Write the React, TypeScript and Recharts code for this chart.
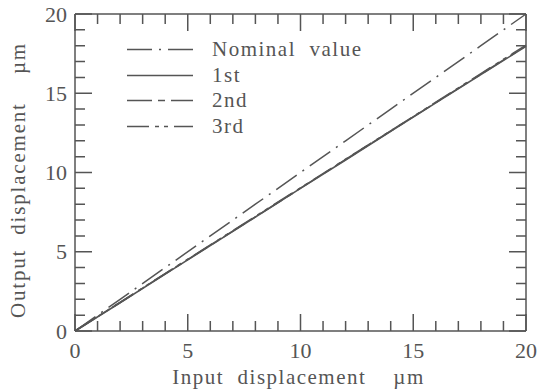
import { Legend, Line, LineChart, XAxis, YAxis } from 'recharts';

// input displacement (µm) and read-off output displacement (µm)
const inputs = [0, 2, 4, 6, 8, 10, 12, 14, 16, 18, 20];
const nominal = [0, 2, 4, 6, 8, 10, 12, 14, 16, 18, 20];
const first = [0, 1.78, 3.59, 5.39, 7.19, 9.0, 10.79, 12.6, 14.39, 16.18, 17.96];
const second = [0, 1.8, 3.61, 5.41, 7.2, 9.01, 10.82, 12.62, 14.41, 16.2, 17.99];
const third = [0, 1.81, 3.62, 5.43, 7.23, 9.03, 10.84, 12.63, 14.43, 16.24, 18.04];

const ticks = [0, 1, 2, 3, 4, 5, 6, 7, 8, 9, 10, 11, 12, 13, 14, 15, 16, 17, 18, 19, 20];

const seriesNames = ['Nominal\u00a0\u00a0value', '1st', '2nd', '3rd'];
const seriesDash = ['25 7 2 7', '', '25 6 7 6', '22 6 4 5 4 6'];

const data = inputs.map((x, i) => ({
  x,
  nominal: nominal[i],
  first: first[i],
  second: second[i],
  third: third[i],
}));

const ink = '#555';
const font = "'Liberation Serif', 'Times New Roman', Times, serif";

// plot box size (frame)
const PLOT_W = 451;
const PLOT_H = 317;

const tickLen = (v: number) => (v % 5 === 0 ? 17 : 10);

// inward ticks on both opposite edges of the frame, labels only every 5
const EdgeTick = (props: any) => {
  const { x, y, payload, side } = props;
  const v = payload.value;
  const len = tickLen(v);
  const showLabel = v % 5 === 0;
  if (side === 'bottom') {
    return (
      <g>
        <path d={`M${x},${y}V${y - len}M${x},${y - PLOT_H}V${y - PLOT_H + len}`} stroke={ink} strokeWidth={1.5} fill="none" />
        {showLabel && (
          <text x={x} y={y + 19} textAnchor="middle" dominantBaseline="central" fill={ink} fontSize={22} style={{ fontFamily: font }}>
            {v}
          </text>
        )}
      </g>
    );
  }
  return (
    <g>
      <path d={`M${x},${y}H${x + len}M${x + PLOT_W},${y}H${x + PLOT_W - len}`} stroke={ink} strokeWidth={1.5} fill="none" />
      {showLabel && (
        <text x={x - 8} y={y} textAnchor="end" dominantBaseline="central" fill={ink} fontSize={22} style={{ fontFamily: font }}>
          {v}
        </text>
      )}
    </g>
  );
};

const XTitle = (props: any) => {
  const { viewBox } = props;
  return (
    <text
      x={viewBox.x + viewBox.width / 2 - 2}
      y={384}
      textAnchor="middle"
      fill={ink}
      fontSize={21}
      style={{ fontFamily: font, letterSpacing: '1.5px' }}
    >
      {'Input\u00a0\u00a0displacement\u00a0\u00a0\u00a0\u00a0µm'}
    </text>
  );
};

const YTitle = () => (
  <text
    x={18}
    y={180}
    transform="rotate(-90 18 180)"
    textAnchor="middle"
    dominantBaseline="central"
    fill={ink}
    fontSize={21}
    style={{ fontFamily: font, letterSpacing: '1.8px' }}
  >
    {'Output\u00a0\u00a0displacement\u00a0\u00a0\u00a0\u00a0µm'}
  </text>
);

const LegendBox = () => (
  <div style={{ fontFamily: font, fontSize: 21, color: ink, letterSpacing: '1.5px' }}>
    {seriesNames.map((name, i) => (
      <div key={name} style={{ display: 'flex', alignItems: 'center', height: 25.5 }}>
        <svg width={66} height={25}>
          <line x1={0} y1={12.5} x2={66} y2={12.5} stroke={ink} strokeWidth={1.5} strokeDasharray={seriesDash[i]} />
        </svg>
        <span style={{ marginLeft: 19, lineHeight: '25px' }}>{name}</span>
      </div>
    ))}
  </div>
);

const App = () => {
  return (
    <div style={{ position: 'absolute', left: 0, top: 0, background: '#fff' }}>
      <LineChart width={538} height={392} data={data} margin={{ top: 13, right: 11, bottom: 0, left: 0 }}>
        <XAxis
          xAxisId="bottom"
          dataKey="x"
          type="number"
          domain={[0, 20]}
          ticks={ticks}
          interval={0}
          height={61}
          tickSize={0}
          tickMargin={0}
          tickLine={false}
          axisLine={{ stroke: ink, strokeWidth: 1.5 }}
          tick={(p: any) => <EdgeTick {...p} side="bottom" />}
          label={<XTitle />}
        />
        <XAxis
          xAxisId="top"
          orientation="top"
          dataKey="x"
          type="number"
          domain={[0, 20]}
          allowDataOverflow
          height={1}
          tick={false}
          tickLine={false}
          axisLine={{ stroke: ink, strokeWidth: 1.5 }}
        />
        <YAxis
          yAxisId="left"
          type="number"
          domain={[0, 20]}
          ticks={ticks}
          interval={0}
          width={75}
          tickSize={0}
          tickMargin={0}
          tickLine={false}
          axisLine={{ stroke: ink, strokeWidth: 1.5 }}
          tick={(p: any) => <EdgeTick {...p} side="left" />}
          label={<YTitle />}
        />
        <YAxis
          yAxisId="right"
          orientation="right"
          type="number"
          domain={[0, 20]}
          allowDataOverflow
          width={1}
          tick={false}
          tickLine={false}
          axisLine={{ stroke: ink, strokeWidth: 1.5 }}
        />
        <Legend
          layout="vertical"
          align="center"
          verticalAlign="middle"
          content={<LegendBox />}
          wrapperStyle={{ top: 37, left: 127, width: 280, height: 104 }}
        />
        {/* invisible series so the top/right frame axes get their scale */}
        <Line xAxisId="top" yAxisId="right" dataKey="nominal" stroke="none" dot={false} activeDot={false} legendType="none" isAnimationActive={false} />
        <Line xAxisId="bottom" yAxisId="left" dataKey="nominal" name={seriesNames[0]} stroke={ink} strokeWidth={1.5} strokeDasharray={seriesDash[0]} dot={false} isAnimationActive={false} />
        <Line xAxisId="bottom" yAxisId="left" dataKey="first" name={seriesNames[1]} stroke={ink} strokeWidth={1.6} dot={false} isAnimationActive={false} />
        <Line xAxisId="bottom" yAxisId="left" dataKey="second" name={seriesNames[2]} stroke={ink} strokeWidth={1.6} strokeDasharray={seriesDash[2]} dot={false} isAnimationActive={false} />
        <Line xAxisId="bottom" yAxisId="left" dataKey="third" name={seriesNames[3]} stroke={ink} strokeWidth={1.6} strokeDasharray={seriesDash[3]} dot={false} isAnimationActive={false} />
      </LineChart>
    </div>
  );
};

export default App;
